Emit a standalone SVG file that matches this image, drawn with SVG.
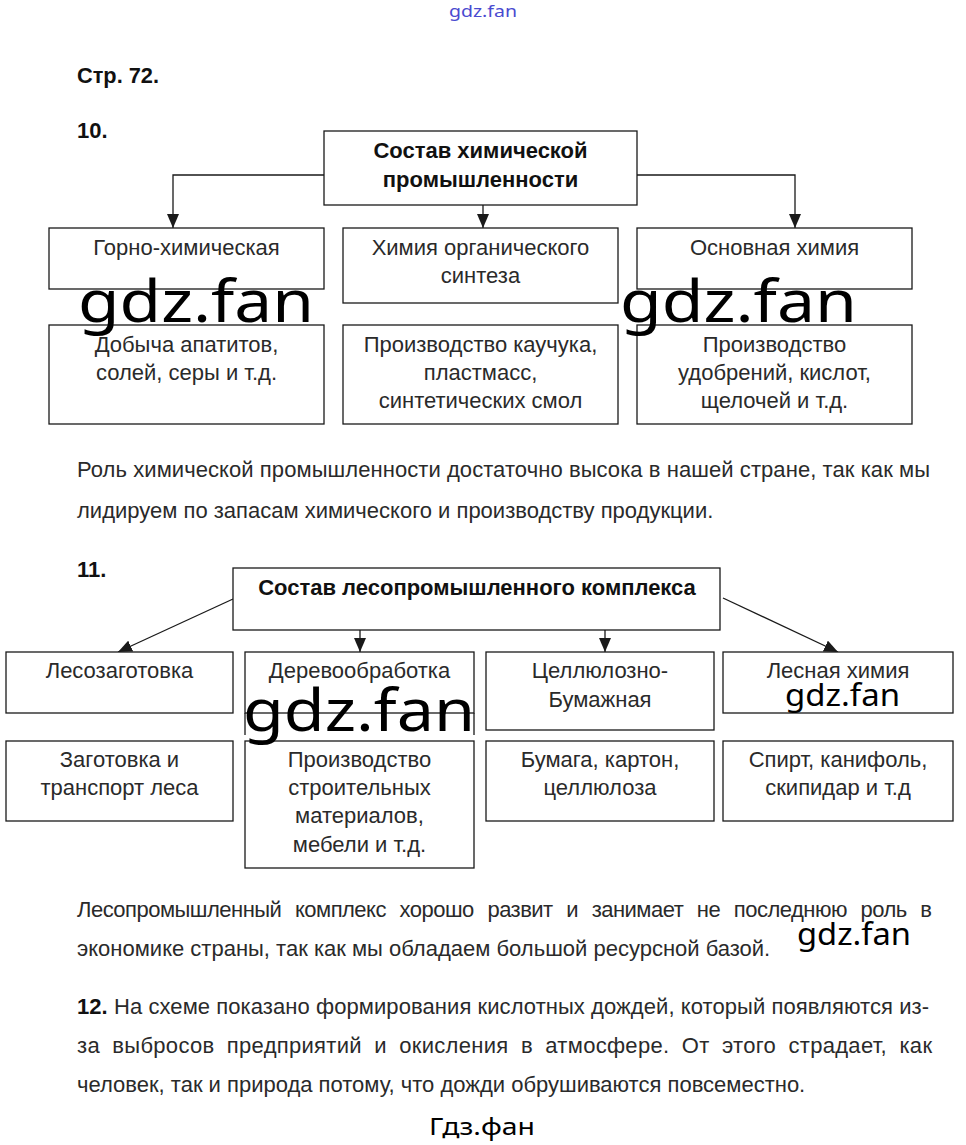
<svg xmlns="http://www.w3.org/2000/svg" width="966" height="1145" viewBox="0 0 966 1145">
<style>
.bg{fill:#ffffff}
.box{fill:#ffffff;stroke:#1a1a1a;stroke-width:1.3}
.ln{fill:none;stroke:#1a1a1a;stroke-width:1.3}
.t{font-family:"Liberation Sans",Arial,sans-serif;font-size:22px;fill:#2a2a2a;text-anchor:middle}
.p{font-family:"Liberation Sans",Arial,sans-serif;font-size:22px;fill:#2a2a2a}
.b{font-family:"Liberation Sans",Arial,sans-serif;font-size:22px;font-weight:bold;fill:#111}
.bc{font-family:"Liberation Sans",Arial,sans-serif;font-size:22px;font-weight:bold;fill:#111;text-anchor:middle}
.wm{font-family:"Noto Sans","Open Sans",sans-serif;fill:#000}
</style>
<defs>
<marker id="ah" markerWidth="14" markerHeight="12" refX="14" refY="6" orient="auto" markerUnits="userSpaceOnUse"><path d="M0,0 L14,6 L0,12 z" fill="#1a1a1a"/></marker>
</defs>
<rect class="bg" x="0" y="0" width="966" height="1145"/>

<text class="wm" x="449" y="17" font-size="16" style="fill:#4a4ad0" textLength="68" lengthAdjust="spacingAndGlyphs">gdz.fan</text>
<text class="b" x="77" y="83" font-size="23" textLength="82" lengthAdjust="spacingAndGlyphs">Стр. 72.</text>
<text class="b" x="77" y="138">10.</text>

<g id="connectors10">
<path class="ln" d="M324 175 H173 V228" marker-end="url(#ah)"/>
<path class="ln" d="M483 205 V228" marker-end="url(#ah)"/>
<path class="ln" d="M637 175 H795 V228" marker-end="url(#ah)"/>
</g>

<g id="chem-root">
<rect class="box" x="324" y="131" width="313" height="74"/>
<text class="bc" x="480.5" y="158">Состав химической</text>
<text class="bc" x="480.5" y="187">промышленности</text>
</g>
<g id="chem-mining">
<rect class="box" x="49" y="228" width="275" height="61"/>
<text class="t" x="186.5" y="255">Горно-химическая</text>
</g>
<g id="chem-organic">
<rect class="box" x="343" y="228" width="275" height="75"/>
<text class="t" x="480.5" y="255">Химия органического</text>
<text class="t" x="480.5" y="283">синтеза</text>
</g>
<g id="chem-basic">
<rect class="box" x="637" y="228" width="275" height="61"/>
<text class="t" x="774.5" y="255">Основная химия</text>
</g>
<g id="chem-mining-d">
<rect class="box" x="49" y="325" width="275" height="99"/>
<text class="t" x="186.5" y="352">Добыча апатитов,</text>
<text class="t" x="186.5" y="380">солей, серы и т.д.</text>
</g>
<g id="chem-organic-d">
<rect class="box" x="343" y="325" width="275" height="99"/>
<text class="t" x="480.5" y="352">Производство каучука,</text>
<text class="t" x="480.5" y="380">пластмасс,</text>
<text class="t" x="480.5" y="408">синтетических смол</text>
</g>
<g id="chem-basic-d">
<rect class="box" x="637" y="325" width="275" height="99"/>
<text class="t" x="774.5" y="352">Производство</text>
<text class="t" x="774.5" y="380">удобрений, кислот,</text>
<text class="t" x="774.5" y="408">щелочей и т.д.</text>
</g>

<text class="wm" x="78" y="322" font-size="58" textLength="236" lengthAdjust="spacingAndGlyphs">gdz.fan</text>
<text class="wm" x="620" y="322" font-size="58" textLength="237" lengthAdjust="spacingAndGlyphs">gdz.fan</text>

<text class="p" x="77" y="477" textLength="853" lengthAdjust="spacing">Роль химической промышленности достаточно высока в нашей стране, так как мы</text>
<text class="p" x="77" y="518">лидируем по запасам химического и производству продукции.</text>

<text class="b" x="77" y="577">11.</text>

<g id="connectors11">
<path class="ln" d="M233 599 L118 652" marker-end="url(#ah)"/>
<path class="ln" d="M360 630 V652" marker-end="url(#ah)"/>
<path class="ln" d="M605 630 V652" marker-end="url(#ah)"/>
<path class="ln" d="M723 598 L838 652" marker-end="url(#ah)"/>
</g>

<g id="forest-root">
<rect class="box" x="233" y="568" width="487" height="62"/>
<text class="bc" x="477" y="595">Состав лесопромышленного комплекса</text>
</g>
<g id="forest-logging">
<rect class="box" x="6" y="652" width="227" height="61"/>
<text class="t" x="119.5" y="678">Лесозаготовка</text>
</g>
<g id="forest-wood">
<rect class="box" x="245" y="652" width="229" height="61"/>
<path class="ln" d="M245 713 V735 M474 713 V735"/>
<text class="t" x="359.5" y="678">Деревообработка</text>
</g>
<g id="forest-pulp">
<rect class="box" x="486" y="652" width="228" height="78"/>
<text class="t" x="600" y="678">Целлюлозно-</text>
<text class="t" x="600" y="707">Бумажная</text>
</g>
<g id="forest-chem">
<rect class="box" x="723" y="652" width="230" height="61"/>
<text class="t" x="838" y="678">Лесная химия</text>
</g>
<g id="forest-logging-d">
<rect class="box" x="6" y="741" width="227" height="80"/>
<text class="t" x="119.5" y="767">Заготовка и</text>
<text class="t" x="119.5" y="795">транспорт леса</text>
</g>
<g id="forest-wood-d">
<rect class="box" x="245" y="741" width="229" height="127"/>
<text class="t" x="359.5" y="767">Производство</text>
<text class="t" x="359.5" y="795">строительных</text>
<text class="t" x="359.5" y="823">материалов,</text>
<text class="t" x="359.5" y="852">мебели и т.д.</text>
</g>
<g id="forest-pulp-d">
<rect class="box" x="486" y="741" width="228" height="80"/>
<text class="t" x="600" y="767">Бумага, картон,</text>
<text class="t" x="600" y="795">целлюлоза</text>
</g>
<g id="forest-chem-d">
<rect class="box" x="723" y="741" width="230" height="80"/>
<text class="t" x="838" y="767">Спирт, канифоль,</text>
<text class="t" x="838" y="795">скипидар и т.д</text>
</g>

<text class="wm" x="243" y="731" font-size="58" textLength="232" lengthAdjust="spacingAndGlyphs">gdz.fan</text>
<text class="wm" x="785" y="706" font-size="30" textLength="115" lengthAdjust="spacingAndGlyphs">gdz.fan</text>

<text class="p" x="77" y="917" word-spacing="8" textLength="855" lengthAdjust="spacing">Лесопромышленный комплекс хорошо развит и занимает не последнюю роль в</text>
<text class="p" x="77" y="956">экономике страны, так как мы обладаем большой ресурсной базой.</text>
<text class="wm" x="797" y="945" font-size="30" textLength="114" lengthAdjust="spacingAndGlyphs">gdz.fan</text>

<text class="p" x="77" y="1014" textLength="852" lengthAdjust="spacing"><tspan font-weight="bold" fill="#111">12.</tspan> На схеме показано формирования кислотных дождей, который появляются из-</text>
<text class="p" x="77" y="1053" word-spacing="6" textLength="855" lengthAdjust="spacing">за выбросов предприятий и окисления в атмосфере. От этого страдает, как</text>
<text class="p" x="77" y="1092">человек, так и природа потому, что дожди обрушиваются повсеместно.</text>

<text class="wm" x="429" y="1135" font-size="24" textLength="106" lengthAdjust="spacingAndGlyphs">Гдз.фан</text>
</svg>
